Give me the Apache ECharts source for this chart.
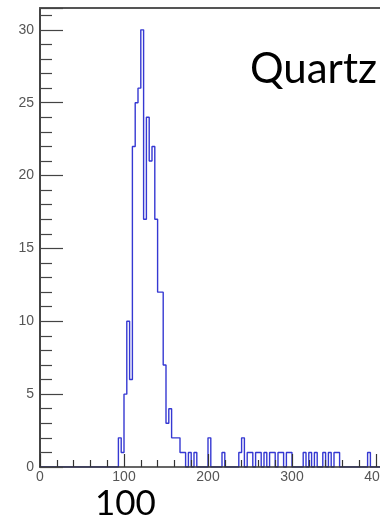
<!DOCTYPE html>
<html>
<head>
<meta charset="utf-8">
<title>Quartz</title>
<script src="https://cdn.jsdelivr.net/npm/echarts@6/dist/echarts.min.js"></script>
<style>
  html, body { margin: 0; padding: 0; background: #fff; overflow: hidden; }
  #chart { width: 380px; height: 521px; }
</style>
</head>
<body>
<div id="chart"></div>
<script>
// Histogram: 150 bins of width 10/3 covering 0..500
const binWidth = 10 / 3;
const counts = [
  0, 0, 0, 0, 0, 0, 0, 0, 0, 0,
  0, 0, 0, 0, 0, 0, 0, 0, 0, 0,
  0, 0, 0, 0, 0, 0, 0, 0, 2, 1,
  5, 10, 6, 22, 25, 26, 30, 17, 24, 21,
  22, 17, 12, 12, 7, 3, 4, 2, 2, 2,
  1, 1, 0, 1, 0, 1, 0, 0, 0, 0,
  2, 0, 0, 0, 0, 1, 0, 0, 0, 0,
  0, 1, 2, 0, 1, 1, 0, 1, 1, 0,
  1, 0, 1, 1, 0, 1, 1, 0, 1, 1,
  0, 0, 0, 0, 1, 0, 1, 0, 1, 0,
  0, 1, 0, 1, 0, 1, 1, 0, 0, 0,
  0, 0, 0, 0, 0, 0, 0, 1, 0, 0,
  0, 0, 0, 0, 0, 0, 0, 0, 0, 0,
  0, 0, 0, 0, 0, 0, 0, 0, 0, 0,
  0, 0, 0, 0, 0, 0, 0, 0, 0, 0
];
const xTicks = [0, 100, 200, 300, 400, 500];
const yTicks = [0, 5, 10, 15, 20, 25, 30];
const panelLabel = 'Quartz';
const thresholdLabel = '100';

// step outline: each point sits on a bin's left edge, plus the closing right edge
const outline = counts.map((c, i) => [i * binWidth, c]);
outline.push([counts.length * binWidth, counts[counts.length - 1]]);

const chart = echarts.init(document.getElementById('chart'), null, { renderer: 'canvas' });

const labelFont = 'Liberation Sans, Arial, sans-serif';

chart.setOption({
  animation: false,
  backgroundColor: '#fff',
  grid: { left: 40, top: 8, width: 420, height: 459, outerBoundsMode: 'none', containLabel: false },
  xAxis: [
    {
      type: 'value',
      position: 'bottom',
      min: xTicks[0],
      max: xTicks[xTicks.length - 1],
      interval: 100,
      z: 3,
      axisLine: { lineStyle: { color: '#333', width: 1.5 } },
      axisTick: { inside: true, length: 13, lineStyle: { color: '#333', width: 1.2 } },
      minorTick: { show: true, splitNumber: 5, length: 7, lineStyle: { color: '#333', width: 1.2 } },
      splitLine: { show: false },
      axisLabel: {
        margin: 3,
        fontSize: 14,
        fontFamily: labelFont,
        color: '#555',
        formatter: v => (xTicks.includes(v) ? String(v) : '')
      }
    },
    {
      type: 'value',
      position: 'top',
      min: xTicks[0],
      max: xTicks[xTicks.length - 1],
      z: 3,
      axisLine: { lineStyle: { color: '#555', width: 2 } },
      axisTick: { show: false },
      axisLabel: { show: false },
      splitLine: { show: false }
    }
  ],
  yAxis: {
    type: 'value',
    min: 0,
    max: 31.5,
    interval: 5,
    z: 3,
    axisLine: { lineStyle: { color: '#444', width: 2 } },
    axisTick: { inside: true, length: 23, lineStyle: { color: '#444', width: 1.2 } },
    minorTick: { show: true, splitNumber: 5, length: 12, lineStyle: { color: '#444', width: 1.2 } },
    splitLine: { show: false },
    axisLabel: {
      margin: 6,
      fontSize: 14,
      fontFamily: labelFont,
      color: '#555',
      showMaxLabel: false,
      formatter: v => (yTicks.includes(v) ? String(v) : '')
    }
  },
  series: [{
    type: 'line',
    step: 'end',
    data: outline,
    symbol: 'none',
    lineStyle: { color: '#3538d2', width: 1.4 },
    z: 2
  }],
  graphic: [
    {
      type: 'text',
      left: 250,
      top: 48,
      style: { text: panelLabel, font: '42px Lato, sans-serif', fill: '#000' }
    },
    {
      type: 'text',
      left: 95,
      top: 486,
      style: { text: thresholdLabel, font: '35px Lato, sans-serif', fill: '#000' }
    }
  ]
});
</script>
</body>
</html>
